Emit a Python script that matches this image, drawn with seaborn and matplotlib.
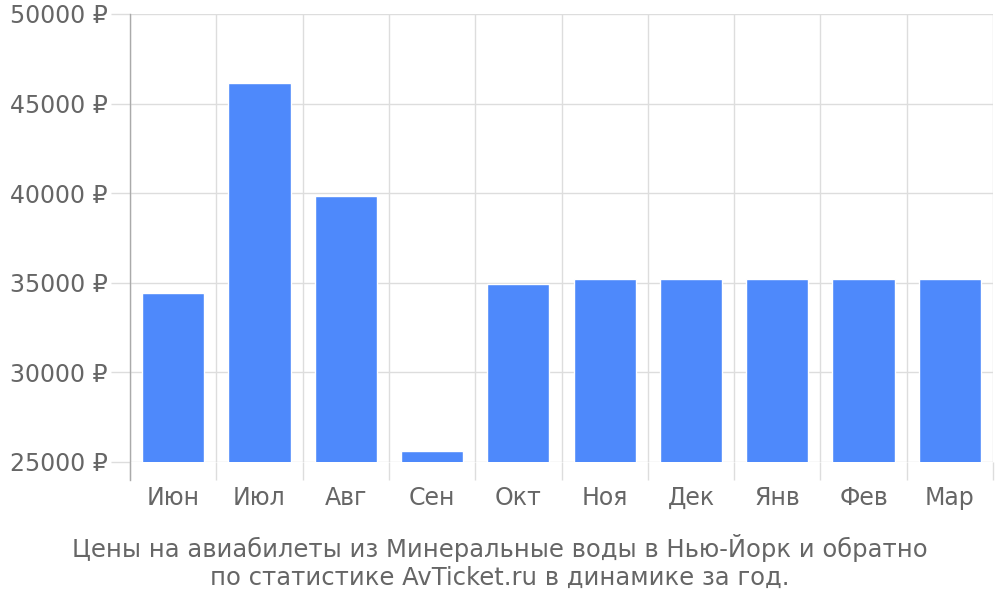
import numpy as np
import pandas as pd
from matplotlib import pyplot as plt
from matplotlib.ticker import FuncFormatter
import seaborn as sns

months = ["Июн", "Июл", "Авг", "Сен", "Окт", "Ноя", "Дек", "Янв", "Фев", "Мар"]
prices = [34430, 46150, 39840, 25610, 34930, 35210, 35210, 35210, 35210, 35210]
yticks = [25000, 30000, 35000, 40000, 45000, 50000]
title = ("Цены на авиабилеты из Минеральные воды в Нью-Йорк и обратно\n"
         "по статистике AvTicket.ru в динамике за год.")

sns.set_style("white")
plt.rcParams['font.family'] = ['DejaVu Sans']
text_col = "#666666"
grid_col = "#dddddd"

df = pd.DataFrame({"month": months, "price": prices})

fig = plt.figure(figsize=(10, 6), dpi=100)
ax = fig.add_axes([0.13, 0.23, 0.863, 0.7467])
sns.barplot(data=df, x="month", y="price", color="#4e89fb", saturation=1,
            width=0.72, ax=ax, zorder=2)

ax.set_ylim(yticks[0], yticks[-1])
ax.set_xlim(-0.5, len(months) - 0.5)
ax.set_yticks(yticks)
ax.yaxis.set_major_formatter(FuncFormatter(lambda v, p: f"{int(v)} ₽"))
ax.set_xlabel("")
ax.set_ylabel("")

# category separators
ax.set_xticks(np.arange(-0.5, len(months)), minor=True)
ax.tick_params(axis="x", which="minor", bottom=True, length=13, width=1,
               color=grid_col)
ax.tick_params(axis="x", which="major", bottom=True, length=0, pad=17,
               labelsize=17, labelcolor=text_col)
ax.tick_params(axis="y", left=True, length=14, width=1, color=grid_col, pad=2,
               labelsize=17, labelcolor=text_col)
ax.grid(True, which="minor", axis="x", color=grid_col, lw=1)
ax.grid(True, which="major", axis="y", color=grid_col, lw=1)
ax.set_axisbelow(True)

for s in ["top", "right", "bottom"]:
    ax.spines[s].set_visible(False)
ax.spines["left"].set_color("#aaaaaa")
ax.spines["left"].set_linewidth(1)
# left axis line runs down past the baseline like the separators
ax.spines["left"].set_bounds(yticks[0] - 1004, yticks[-1])

fig.text(0.5, 0.063, title, ha="center", va="center", fontsize=17.5,
         color=text_col, linespacing=1.2)

fig.savefig("out.png", dpi=100)
plt.close(fig)
